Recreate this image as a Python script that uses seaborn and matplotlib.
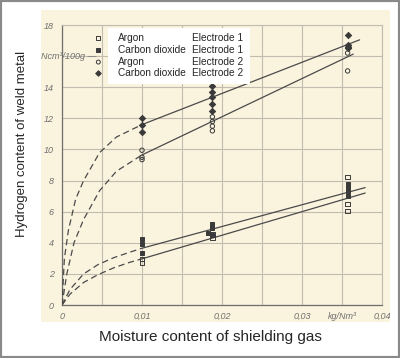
import numpy as np
import pandas as pd
import seaborn as sns
from matplotlib import pyplot as plt
from matplotlib.patches import Rectangle

# measured points: moisture content (kg/Nm3) vs hydrogen content (Ncm3/100g)
ar1_x = [0.01, 0.01, 0.0188, 0.0188, 0.0357, 0.0357, 0.0357]
ar1_y = [2.95, 2.7, 4.55, 4.35, 8.25, 6.5, 6.05]
co1_x = [0.01, 0.01, 0.01, 0.0188, 0.0188, 0.0183, 0.0188, 0.0357, 0.0357, 0.0357, 0.0357]
co1_y = [4.25, 3.95, 3.35, 5.2, 4.95, 4.6, 4.5, 7.75, 7.55, 7.35, 7.0]
ar2_x = [0.01, 0.01, 0.01, 0.0188, 0.0188, 0.0188, 0.0188, 0.0357, 0.0357]
ar2_y = [9.95, 9.5, 9.35, 12.1, 11.8, 11.5, 11.2, 16.2, 15.05]
co2_x = [0.01, 0.01, 0.01, 0.0188, 0.0188, 0.0188, 0.0188, 0.0188, 0.0357, 0.0357, 0.0357, 0.0357]
co2_y = [12.0, 11.6, 11.1, 14.05, 13.7, 13.35, 12.9, 12.45, 17.35, 16.75, 16.6, 16.5]

# fitted lines: dashed part near origin, straight part from 0.01
co2_dash_x = [0, 0.0003, 0.0008, 0.0017, 0.0027, 0.0047, 0.0068, 0.01]
co2_dash_y = [0, 3.0, 4.8, 6.8, 8.0, 9.8, 10.8, 11.6]
ar2_dash_x = [0, 0.0006, 0.0015, 0.0027, 0.0047, 0.0068, 0.01]
ar2_dash_y = [0, 2.0, 4.0, 5.5, 7.35, 8.6, 9.65]
co1_dash_x = [0, 0.001, 0.0027, 0.0045, 0.0065, 0.0085, 0.01]
co1_dash_y = [0, 1.0, 2.0, 2.6, 3.05, 3.4, 3.65]
ar1_dash_x = [0, 0.001, 0.0027, 0.0045, 0.0065, 0.0085, 0.01]
ar1_dash_y = [0, 0.7, 1.45, 1.95, 2.4, 2.75, 2.97]

co2_line_x = [0.01, 0.0372]
co2_line_y = [11.6, 17.05]
ar2_line_x = [0.01, 0.0364]
ar2_line_y = [9.65, 16.13]
co1_line_x = [0.01, 0.0379]
co1_line_y = [3.65, 7.55]
ar1_line_x = [0.01, 0.0379]
ar1_line_y = [2.97, 7.2]

legend_gas = ['Argon', 'Carbon dioxide', 'Argon', 'Carbon dioxide']
legend_electrode = ['Electrode 1', 'Electrode 1', 'Electrode 2', 'Electrode 2']

xtick_pos = [0, 0.01, 0.02, 0.03, 0.035, 0.04]
xtick_labels = ['0', '0,01', '0,02', '0,03', 'kg/Nm³', '0,04']
ytick_pos = [0, 2, 4, 6, 8, 10, 12, 14, 16, 18]
ytick_labels = ['0', '2', '4', '6', '8', '10', '12', '14', '', '18']

sns.set_style('white')
plt.rcParams['font.family'] = ['Liberation Sans', 'DejaVu Sans']

paper = '#faf3de'
grid_c = '#c2bcae'
ink = '#3a3a3a'

fig = plt.figure(figsize=(4, 3.58), dpi=100)
fig.add_artist(Rectangle((0.1025, 0.1006), 0.8725, 0.8715, transform=fig.transFigure,
                         facecolor=paper, edgecolor='none', zorder=-10))
fig.add_artist(Rectangle((0, 0), 1, 1, transform=fig.transFigure, fill=False,
                         edgecolor='#8a8a8a', linewidth=3, zorder=10))

ax = fig.add_axes([0.155, 0.148, 0.8, 0.782])
ax.set_facecolor('none')

series = [
    (ar1_x, ar1_y, 's', 'none'),
    (co1_x, co1_y, 's', ink),
    (ar2_x, ar2_y, 'o', 'none'),
    (co2_x, co2_y, 'D', ink),
]
for xs, ys, mk, fc in series:
    sns.scatterplot(x=xs, y=ys, marker=mk, s=10, facecolor=fc, edgecolor=ink,
                    linewidth=0.7, ax=ax, zorder=4)

dash = (0, (5, 3))
for xs, ys in [(co2_dash_x, co2_dash_y), (ar2_dash_x, ar2_dash_y),
               (co1_dash_x, co1_dash_y), (ar1_dash_x, ar1_dash_y)]:
    sns.lineplot(x=xs, y=ys, sort=False, estimator=None, color='#4a4a4a',
                 linewidth=0.9, linestyle=dash, ax=ax, zorder=3)
for xs, ys in [(co2_line_x, co2_line_y), (ar2_line_x, ar2_line_y),
               (co1_line_x, co1_line_y), (ar1_line_x, ar1_line_y)]:
    sns.lineplot(x=xs, y=ys, sort=False, estimator=None, color='#4a4a4a',
                 linewidth=0.9, ax=ax, zorder=3)

ax.set_xlim(0, 0.04)
ax.set_ylim(0, 18)
ax.set_xticks(xtick_pos)
ax.set_xticklabels(xtick_labels)
ax.set_xticks([0.005, 0.015, 0.025], minor=True)
ax.set_yticks(ytick_pos)
ax.set_yticklabels(ytick_labels)
ax.grid(True, which='both', color=grid_c, linewidth=0.8)
ax.tick_params(axis='x', which='both', length=0, pad=5, labelsize=6.5, labelcolor='#707070')
ax.tick_params(axis='y', length=3, width=0.7, color='#777777', pad=3, labelsize=6.5,
               labelcolor='#707070')
for lab in ax.get_xticklabels() + ax.get_yticklabels():
    lab.set_fontstyle('italic')
for side in ['top', 'right']:
    ax.spines[side].set_color(grid_c)
    ax.spines[side].set_linewidth(0.8)
for side in ['left', 'bottom']:
    ax.spines[side].set_color('#6f6f6f')
    ax.spines[side].set_linewidth(0.9)
ax.set_xlabel('')
ax.set_ylabel('')

ax.text(-0.066, 16, 'Ncm³/100g —', transform=ax.get_yaxis_transform(), fontsize=6.5,
        fontstyle='italic', color='#707070', va='center', ha='left')

# legend: white box with text, markers sitting just left of it
ax.add_patch(Rectangle((0.00575, 14.23), 0.0178, 3.6, facecolor='white',
                       edgecolor='none', zorder=5))
leg_y = [17.16, 16.38, 15.62, 14.9]
for i, (mk, fc) in enumerate([('s', 'none'), ('s', ink), ('o', 'none'), ('D', ink)]):
    ax.scatter([0.00454], [leg_y[i]], marker=mk, s=8, facecolor=fc, edgecolor=ink,
               linewidth=0.7, zorder=6)
    ax.text(0.007, leg_y[i], legend_gas[i], fontsize=7.3, va='center', ha='left', zorder=6)
    ax.text(0.01624, leg_y[i], legend_electrode[i], fontsize=7.3, va='center', ha='left',
            zorder=6)

fig.text(0.055, 0.599, 'Hydrogen content of weld metal', rotation=90, fontsize=9.5,
         ha='center', va='center')
fig.text(0.525, 0.059, 'Moisture content of shielding gas', fontsize=11,
         ha='center', va='center')

fig.savefig('out.png', dpi=100)
